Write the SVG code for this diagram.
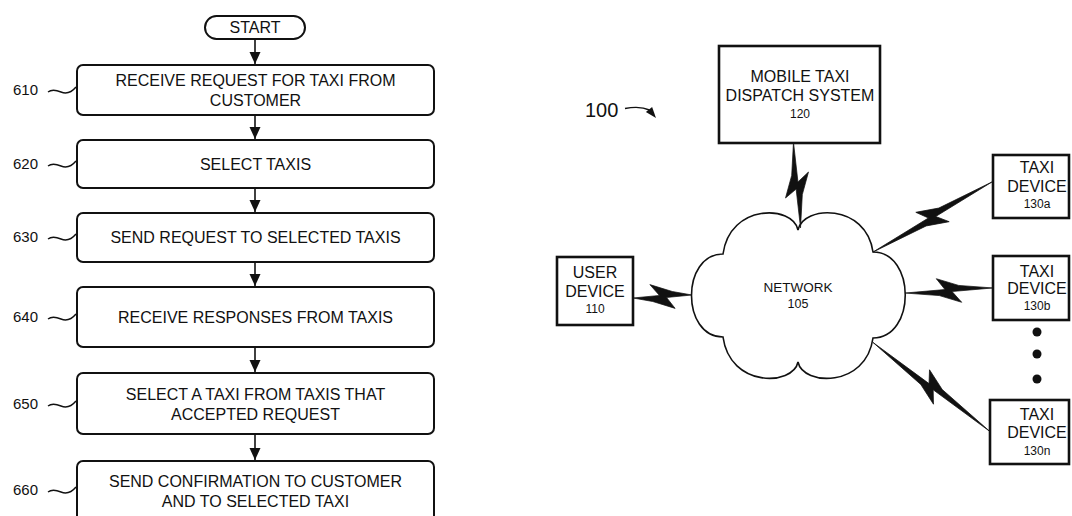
<svg xmlns="http://www.w3.org/2000/svg" width="1072" height="516" viewBox="0 0 1072 516">
<style>
text{font-family:"Liberation Sans",Arial,sans-serif;fill:#111}
.t16{font-size:16px;text-anchor:middle}
.t12{font-size:12px;text-anchor:middle}
.lbl{font-size:15px;text-anchor:end}
.fbox{fill:#fff;stroke:#111;stroke-width:2}
.nbox{fill:#fff;stroke:#111;stroke-width:2.6}
.flow{fill:none;stroke:#111;stroke-width:1.6}
.tl{fill:none;stroke:#111;stroke-width:1.4}
.bolt{fill:#111;stroke:#111;stroke-width:0.7;stroke-linejoin:miter}
</style>
<defs>
<marker id="ah" markerUnits="userSpaceOnUse" markerWidth="13" markerHeight="12" refX="12" refY="5.5" orient="auto">
<path d="M0,0 L12,5.5 L0,11 Z" fill="#111"/>
</marker>
<path id="tilde" d="M0,2 C4,-1 8,0 13,2 S23,3 28,-3" fill="none" stroke="#111" stroke-width="1.4"/>
</defs>
<rect width="1072" height="516" fill="#fff"/>

<g id="start"><rect class="fbox" x="205" y="16" width="100" height="23" rx="11.5"/><text class="t16" x="255" y="33">START</text></g>
<g id="step610"><rect class="fbox" x="77" y="65" width="357" height="50" rx="6"/><text class="t16" x="255.5" y="86">RECEIVE REQUEST FOR TAXI FROM</text><text class="t16" x="255.5" y="106">CUSTOMER</text><text class="lbl" x="38" y="95">610</text><use href="#tilde" x="48" y="90"/></g>
<g id="step620"><rect class="fbox" x="77" y="140" width="357" height="48" rx="6"/><text class="t16" x="255.5" y="170">SELECT TAXIS</text><text class="lbl" x="38" y="169">620</text><use href="#tilde" x="48" y="164"/></g>
<g id="step630"><rect class="fbox" x="77" y="213" width="357" height="49" rx="6"/><text class="t16" x="255.5" y="243">SEND REQUEST TO SELECTED TAXIS</text><text class="lbl" x="38" y="242">630</text><use href="#tilde" x="48" y="237"/></g>
<g id="step640"><rect class="fbox" x="77" y="287" width="357" height="60" rx="6"/><text class="t16" x="255.5" y="323">RECEIVE RESPONSES FROM TAXIS</text><text class="lbl" x="38" y="322">640</text><use href="#tilde" x="48" y="317"/></g>
<g id="step650"><rect class="fbox" x="77" y="373" width="357" height="61" rx="6"/><text class="t16" x="255.5" y="400">SELECT A TAXI FROM TAXIS THAT</text><text class="t16" x="255.5" y="420">ACCEPTED REQUEST</text><text class="lbl" x="38" y="409">650</text><use href="#tilde" x="48" y="404"/></g>
<g id="step660"><rect class="fbox" x="77" y="461" width="357" height="64" rx="6"/><text class="t16" x="255.5" y="487">SEND CONFIRMATION TO CUSTOMER</text><text class="t16" x="255.5" y="507">AND TO SELECTED TAXI</text><text class="lbl" x="38" y="495">660</text><use href="#tilde" x="48" y="490"/></g>

<g id="ref100"><text x="585" y="117" style="font-size:20px">100</text><path d="M625,108.5 C636,106.5 644,107.5 649.5,110" class="tl"/><polygon points="656,118 645.9,112.1 652.1,106.9" fill="#111"/></g>

<g id="dispatch"><rect class="nbox" x="719" y="46" width="161" height="97"/><text class="t16" x="800" y="82">MOBILE TAXI</text><text class="t16" x="800" y="101">DISPATCH SYSTEM</text><text class="t12" x="800" y="118">120</text></g>
<g id="network"><path d="M798,230 C803,205 866,203 873,252 C916,252 916,338 873,338 C866,388 803,386 798,362 C793,386 730,388 723,337 C681,337 681,254 723,254 C730,203 793,205 798,230 Z" fill="#fff" stroke="#111" stroke-width="1.6"/><text x="798" y="292" style="font-size:13.5px;text-anchor:middle">NETWORK</text><text x="798" y="308" style="font-size:12.5px;text-anchor:middle">105</text></g>
<g id="user"><rect class="nbox" x="557" y="257" width="76" height="68"/><text class="t16" x="595" y="278">USER</text><text class="t16" x="595" y="297">DEVICE</text><text class="t12" x="595" y="313">110</text></g>
<g id="taxiA"><rect class="nbox" x="993" y="155" width="76" height="63"/><text class="t16" x="1037" y="173">TAXI</text><text class="t16" x="1037" y="192">DEVICE</text><text class="t12" x="1037" y="208">130a</text></g>
<g id="taxiB"><rect class="nbox" x="993" y="256" width="76" height="64"/><text class="t16" x="1037" y="277">TAXI</text><text class="t16" x="1037" y="294">DEVICE</text><text class="t12" x="1037" y="310">130b</text></g>
<g id="dots"><circle cx="1037" cy="332" r="4.5" fill="#111"/><circle cx="1037" cy="354" r="4.5" fill="#111"/><circle cx="1037" cy="379" r="4.5" fill="#111"/></g>
<g id="taxiN"><rect class="nbox" x="990" y="400" width="79" height="64"/><text class="t16" x="1037" y="420">TAXI</text><text class="t16" x="1037" y="438">DEVICE</text><text class="t12" x="1037" y="455">130n</text></g>

<g id="connectors">
<line class="flow" x1="255" y1="39" x2="255" y2="64" marker-end="url(#ah)"/>
<line class="flow" x1="255" y1="115" x2="255" y2="139" marker-end="url(#ah)"/>
<line class="flow" x1="255" y1="188" x2="255" y2="212" marker-end="url(#ah)"/>
<line class="flow" x1="255" y1="262" x2="255" y2="286" marker-end="url(#ah)"/>
<line class="flow" x1="255" y1="347" x2="255" y2="372" marker-end="url(#ah)"/>
<line class="flow" x1="255" y1="434" x2="255" y2="460" marker-end="url(#ah)"/>
<g transform="translate(662.5,296.5) rotate(-2.9)"><polygon class="bolt" points="-29.5,0 -3,-1.2 -12,-12.5 10,-4.5 29.5,0 4,1.2 12,12.5 -10,4.5"/></g>
<g transform="translate(797,185) rotate(85.3)"><polygon class="bolt" points="-43,0 -3,-1.2 -12,-12.5 10,-4.5 43,0 4,1.2 12,12.5 -10,4.5"/></g>
<g transform="translate(932.5,217) rotate(149.5)"><polygon class="bolt" points="-69,0 -3,-1.2 -12,-12.5 10,-4.5 69,0 4,1.2 12,12.5 -10,4.5"/></g>
<g transform="translate(949,290.5) rotate(176.7)"><polygon class="bolt" points="-44,0 -3,-1.2 -12,-12.5 10,-4.5 44,0 4,1.2 12,12.5 -10,4.5"/></g>
<g transform="translate(931.5,387) rotate(-142.7)"><polygon class="bolt" points="-73.5,0 -3,-1.2 -12,-12.5 10,-4.5 73.5,0 4,1.2 12,12.5 -10,4.5"/></g>
</g>
</svg>
